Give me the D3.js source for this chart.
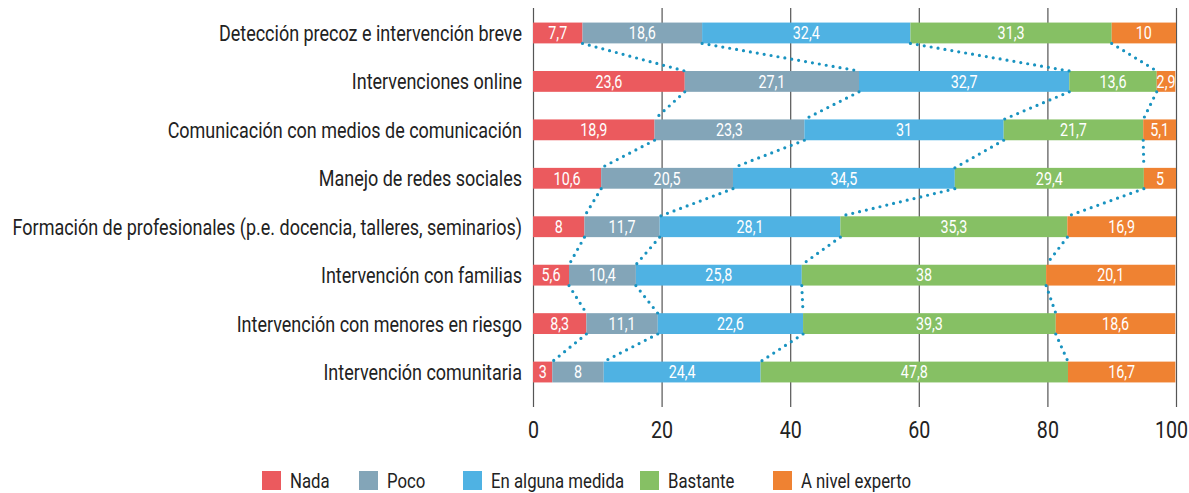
<!DOCTYPE html>
<html>
<head>
<meta charset="utf-8">
<script src="https://cdn.jsdelivr.net/npm/d3@7"></script>
<style>
  body { margin: 0; background: #fff; }
  svg text { font-family: Roboto, "DejaVu Sans Condensed", sans-serif; }
</style>
</head>
<body>
<svg id="chart"></svg>
<script>
const categories = [
  "Detección precoz e intervención breve",
  "Intervenciones online",
  "Comunicación con medios de comunicación",
  "Manejo de redes sociales",
  "Formación de profesionales (p.e. docencia, talleres, seminarios)",
  "Intervención con familias",
  "Intervención con menores en riesgo",
  "Intervención comunitaria"
];
const seriesNames = ["Nada", "Poco", "En alguna medida", "Bastante", "A nivel experto"];
const nada = [7.7, 23.6, 18.9, 10.6, 8, 5.6, 8.3, 3];
const poco = [18.6, 27.1, 23.3, 20.5, 11.7, 10.4, 11.1, 8];
const enAlgunaMedida = [32.4, 32.7, 31, 34.5, 28.1, 25.8, 22.6, 24.4];
const bastante = [31.3, 13.6, 21.7, 29.4, 35.3, 38, 39.3, 47.8];
const nivelExperto = [10, 2.9, 5.1, 5, 16.9, 20.1, 18.6, 16.7];
const xTicks = [0, 20, 40, 60, 80, 100];

const colors = ["#eb5a5e", "#83a5b8", "#4fb2e3", "#86c064", "#ef8232"];
const seriesValues = [nada, poco, enAlgunaMedida, bastante, nivelExperto];

const width = 1189, height = 493;
const svg = d3.select("#chart").attr("width", width).attr("height", height);

const x = d3.scaleLinear().domain([0, 100]).range([533, 1176]);
const y = d3.scaleBand().domain(categories).range([9, 396]).paddingInner(0.57).paddingOuter(0.28);

// the original font is a condensed one, so squeeze text horizontally
const probe = svg.append("text").style("font-size", "22px").text(categories[4]);
const k = 510 / probe.node().getComputedTextLength();
probe.remove();

function condensed(sel, fx, fy) {
  sel.attr("transform", (d, i) => `translate(${fx(d, i)},${fy(d, i)}) scale(${k},1)`);
}

// rows for stacking
const rows = categories.map((c, i) => {
  const r = { cat: c };
  seriesNames.forEach((s, j) => r[s] = seriesValues[j][i]);
  return r;
});
const stacked = d3.stack().keys(seriesNames)(rows);

// gridlines + axis
const axis = svg.append("g")
  .attr("transform", "translate(0,407)")
  .call(d3.axisBottom(x).tickValues(xTicks).tickSize(-399).tickFormat(d3.format("d")));
axis.select(".domain").remove();
axis.selectAll(".tick line").attr("stroke", "#555").attr("stroke-width", 1.2);
axis.selectAll(".tick text")
  .attr("fill", "#222").style("font-size", "24px")
  .attr("y", null).attr("dy", null)
  .attr("transform", d => `translate(${d === 100 ? -5 : 0},31) scale(${k},1)`);

// bars
const layer = svg.append("g").selectAll("g")
  .data(stacked)
  .join("g")
  .attr("fill", (d, i) => colors[i]);

layer.selectAll("rect")
  .data(d => d)
  .join("rect")
  .attr("x", d => x(d[0]))
  .attr("width", d => x(d[1]) - x(d[0]))
  .attr("y", d => y(d.data.cat))
  .attr("height", y.bandwidth());

// value labels
layer.selectAll("text")
  .data(d => d.map(v => ({ v, key: d.key })))
  .join("text")
  .attr("dy", "0.36em")
  .attr("text-anchor", "middle")
  .attr("fill", "#fff")
  .style("font-size", "17.5px")
  .call(condensed, d => (x(d.v[0]) + x(d.v[1])) / 2, d => y(d.v.data.cat) + y.bandwidth() / 2)
  .text(d => String(d.v.data[d.key]).replace(".", ","));

// dotted connector lines between boundaries
const connectors = svg.append("g");
stacked.slice(0, 4).forEach(s => {
  for (let i = 0; i < categories.length - 1; i++) {
    connectors.append("line")
      .attr("x1", x(s[i][1]))
      .attr("y1", y(categories[i]) + y.bandwidth())
      .attr("x2", x(s[i + 1][1]))
      .attr("y2", y(categories[i + 1]))
      .attr("stroke", "#1993c0")
      .attr("stroke-width", 3.2)
      .attr("stroke-linecap", "round")
      .attr("stroke-dasharray", "0,7");
  }
});

// category labels
svg.append("g").selectAll("text")
  .data(categories)
  .join("text")
  .attr("dy", "0.36em")
  .attr("text-anchor", "end")
  .attr("fill", "#222")
  .style("font-size", "22px")
  .call(condensed, () => 522, d => y(d) + y.bandwidth() / 2)
  .text(d => d);

// legend
const legendX = [262, 359, 463, 640, 773];
const legend = svg.append("g").selectAll("g")
  .data(seriesNames)
  .join("g")
  .attr("transform", (d, i) => `translate(${legendX[i]},471)`);
legend.append("rect").attr("width", 19).attr("height", 19).attr("fill", (d, i) => colors[i]);
legend.append("text")
  .attr("dy", "0.36em")
  .attr("fill", "#222").style("font-size", "20.5px")
  .attr("transform", `translate(28,10) scale(${k},1)`)
  .text(d => d);
</script>
</body>
</html>
